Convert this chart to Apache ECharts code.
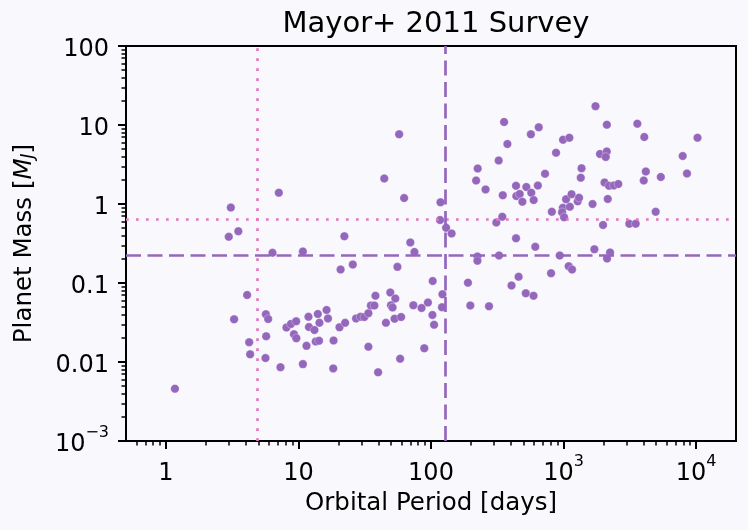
<!DOCTYPE html>
<html>
<head>
<meta charset="utf-8">
<script src="https://cdn.jsdelivr.net/npm/echarts@6/dist/echarts.min.js"></script>
<style>
html, body { margin: 0; padding: 0; background: #f9f9fd; }
#main { width: 748px; height: 530px; }
</style>
</head>
<body>
<div id="main"></div>
<script>
// orbital period [days] and planet mass [M_J]
var period = [1.17, 3.09, 3.52, 2.98, 7.11, 6.37, 10.8, 3.27, 4.10, 4.25,
  4.32, 5.68, 5.91, 5.71, 5.64, 7.32, 10.8, 8.12, 8.77, 9.61,
  9.25, 9.64, 11.5, 11.9, 12.0, 13.2, 13.5, 14.3, 14.0, 14.4,
  16.3, 16.7, 18.4, 18.3, 20.4, 22.5, 20.8, 25.7, 22.2, 27.2,
  29.4, 31.4, 33.7, 35.2, 37.4, 38.1, 33.7, 39.9, 45.7, 49.3,
  53.8, 49.9, 51.3, 53.1, 59.5, 58.5, 55.8, 44.4, 57.5, 62.7,
  69.8, 75.0, 73.6, 84.9, 94.8, 103, 102.5, 105.5, 89.0, 118,
  117, 130, 143, 122, 121, 190, 198, 274, 224, 224,
  326, 225, 219, 258, 324, 356, 377, 311, 345, 348,
  438, 524, 640, 440, 467, 489, 571, 595, 725, 567,
  650, 878, 991, 1106, 438, 612, 816, 988, 975, 1009,
  1116, 1045, 1149, 1279, 1309, 1367, 1349, 1655, 1742, 2122,
  3603, 4066, 10250, 1884, 2118, 2081, 7925, 8536, 2038, 2204,
  2394, 2589, 2155, 4176, 4027, 5418, 4956, 1986, 3134, 3502,
  936, 1708, 2243, 2129, 1094, 1159, 805, 458, 405, 519, 594];
var mass = [0.0046, 0.90, 0.453, 0.385, 1.39, 0.241, 0.251, 0.0347, 0.0705, 0.0178,
  0.0125, 0.0403, 0.035, 0.0212, 0.0112, 0.0086, 0.0094, 0.0273, 0.0303, 0.0327,
  0.0225, 0.020, 0.016, 0.0374, 0.0277, 0.0254, 0.0182, 0.0186, 0.0405, 0.0314,
  0.0455, 0.0356, 0.0187, 0.0083, 0.0275, 0.0313, 0.148, 0.171, 0.390, 0.0356,
  0.0374, 0.0371, 0.0415, 0.0519, 0.0519, 0.069, 0.0156, 0.0074, 0.0313, 0.0758,
  0.0637, 0.0522, 0.049, 0.0353, 0.0371, 0.011, 0.160, 2.10, 7.63, 1.19,
  0.326, 0.247, 0.0522, 0.0483, 0.0566, 0.106, 0.0394, 0.0296, 0.0149, 1.05,
  0.627, 0.50, 0.423, 0.072, 0.0494, 0.101, 0.0519, 0.0507, 0.216, 0.191,
  0.223, 2.81, 1.98, 1.53, 3.55, 10.9, 5.75, 0.583, 0.689, 1.29,
  1.70, 1.64, 1.71, 1.26, 1.34, 1.07, 1.39, 1.12, 2.42, 7.62,
  9.35, 4.46, 6.51, 6.89, 0.368, 0.287, 0.797, 0.895, 0.787, 0.679,
  0.922, 1.15, 1.33, 1.08, 1.20, 2.84, 2.15, 1.00, 17.3, 10.1,
  10.4, 7.05, 6.91, 4.30, 4.62, 3.94, 4.05, 2.43, 1.87, 1.70,
  1.72, 1.79, 1.16, 2.58, 1.98, 2.20, 0.797, 0.542, 0.563, 0.563,
  0.223, 0.267, 0.243, 0.204, 0.163, 0.148, 0.133, 0.120, 0.093, 0.0741, 0.0689];

// dotted pink / dashed purple reference lines
var dottedPeriod = 4.86, dashedPeriod = 129;
var dottedMass = 0.646, dashedMass = 0.226;

var xRange = [0.5, 20000];
var yRange = [0.001, 100];
var xTicks = [1, 10, 100, 1000, 10000];
var xTickLabels = ['{b|1}', '{b|10}', '{b|100}', '{b|10}{sup|3}', '{b|10}{sup|4}'];
var yTicks = [0.001, 0.01, 0.1, 1, 10, 100];
var yTickLabels = ['{b|10}{sup|\u22123}', '{b|0.01}', '{b|0.1}', '{b|1}', '{b|10}', '{b|100}'];

var lg = Math.log10;
var FONT = 'DejaVu Sans';
var PURPLE = '#9467bd', PINK = '#e377c2';

function minorTicks(range) {
  var out = [];
  for (var d = -4; d <= 5; d++) {
    for (var k = 2; k <= 9; k++) {
      var v = k * Math.pow(10, d);
      if (v > range[0] && v < range[1]) out.push(lg(v));
    }
  }
  return out;
}
function labelFor(ticks, labels) {
  return function (v) {
    for (var i = 0; i < ticks.length; i++) {
      if (Math.abs(lg(ticks[i]) - v) < 1e-6) return labels[i];
    }
    return '';
  };
}
var rich = {
  b: { fontFamily: FONT, fontSize: 24, lineHeight: 32, color: '#000', verticalAlign: 'bottom' },
  sup: { fontFamily: FONT, fontSize: 16, lineHeight: 16, color: '#000', verticalAlign: 'top' }
};

var points = period.map(function (p, i) { return [lg(p), lg(mass[i])]; });

var gridBox = { left: 126, right: 12, top: 46, bottom: 89, containLabel: false, outerBoundsMode: 'none' };

var myChart = echarts.init(document.getElementById('main'), null, { renderer: 'canvas' });
var option = {
  backgroundColor: '#f9f9fd',
  animation: false,
  title: {
    text: 'Mayor+ 2011 Survey',
    left: 431, top: 5, textAlign: 'center',
    textStyle: { fontFamily: FONT, fontSize: 29, fontWeight: 'normal', color: '#000' }
  },
  grid: [
    Object.assign({ show: true, borderColor: '#000', borderWidth: 2, backgroundColor: 'transparent' }, gridBox),
    Object.assign({ show: false }, gridBox)
  ],
  xAxis: [{
    type: 'value', gridIndex: 0,
    min: lg(xRange[0]), max: lg(xRange[1]),
    name: 'Orbital Period [days]', nameLocation: 'middle', nameGap: 50,
    nameTextStyle: { fontFamily: FONT, fontSize: 24.5, color: '#000' },
    axisLine: { show: true, onZero: false, lineStyle: { color: '#000', width: 2 } },
    axisTick: { show: true, length: 8, lineStyle: { color: '#000', width: 2 }, customValues: xTicks.map(lg) },
    axisLabel: { margin: 13, customValues: xTicks.map(lg), formatter: labelFor(xTicks, xTickLabels), rich: rich },
    splitLine: { show: false }
  }, {
    type: 'value', gridIndex: 1,
    min: lg(xRange[0]), max: lg(xRange[1]),
    axisLine: { show: false, onZero: false },
    axisTick: { show: true, length: 4.5, lineStyle: { color: '#000', width: 1.5 }, customValues: minorTicks(xRange) },
    axisLabel: { show: false },
    splitLine: { show: false }
  }],
  yAxis: [{
    type: 'value', gridIndex: 0,
    min: lg(yRange[0]), max: lg(yRange[1]),
    name: 'Planet Mass [{i|M}{s|J}]', nameLocation: 'middle', nameGap: 89, nameRotate: 90,
    nameTextStyle: {
      fontFamily: FONT, fontSize: 24.5, color: '#000',
      rich: {
        i: { fontFamily: FONT, fontSize: 24.5, fontStyle: 'italic', color: '#000' },
        s: { fontFamily: FONT, fontSize: 17, fontStyle: 'italic', color: '#000', verticalAlign: 'bottom' }
      }
    },
    axisLine: { show: true, onZero: false, lineStyle: { color: '#000', width: 2 } },
    axisTick: { show: true, length: 8, lineStyle: { color: '#000', width: 2 }, customValues: yTicks.map(lg) },
    axisLabel: { margin: 17, customValues: yTicks.map(lg), formatter: labelFor(yTicks, yTickLabels), rich: rich },
    splitLine: { show: false }
  }, {
    type: 'value', gridIndex: 1,
    min: lg(yRange[0]), max: lg(yRange[1]),
    axisLine: { show: false, onZero: false },
    axisTick: { show: true, length: 4.5, lineStyle: { color: '#000', width: 1.5 }, customValues: minorTicks(yRange) },
    axisLabel: { show: false },
    splitLine: { show: false }
  }],
  series: [{
    // reference lines, kept under the points
    type: 'scatter', xAxisIndex: 0, yAxisIndex: 0, z: 1, data: [],
    markLine: {
      silent: true, symbol: 'none', label: { show: false }, animation: false,
      data: [
        { xAxis: lg(dottedPeriod), lineStyle: { color: PINK, width: 2.7, type: [2.7, 7.3] } },
        { yAxis: lg(dottedMass), lineStyle: { color: PINK, width: 2.7, type: [2.7, 7.3] } },
        { xAxis: lg(dashedPeriod), lineStyle: { color: PURPLE, width: 2.7, type: [15, 6.5] } },
        { yAxis: lg(dashedMass), lineStyle: { color: PURPLE, width: 2.7, type: [15, 6.5] } }
      ]
    }
  }, {
    name: 'Mayor+ 2011',
    type: 'scatter', xAxisIndex: 0, yAxisIndex: 0, z: 3,
    symbol: 'circle', symbolSize: 8.5,
    itemStyle: { color: PURPLE, opacity: 1, borderColor: 'rgba(255,255,255,0.5)', borderWidth: 0.6 },
    data: points
  }]
};
myChart.setOption(option);
</script>
</body>
</html>
